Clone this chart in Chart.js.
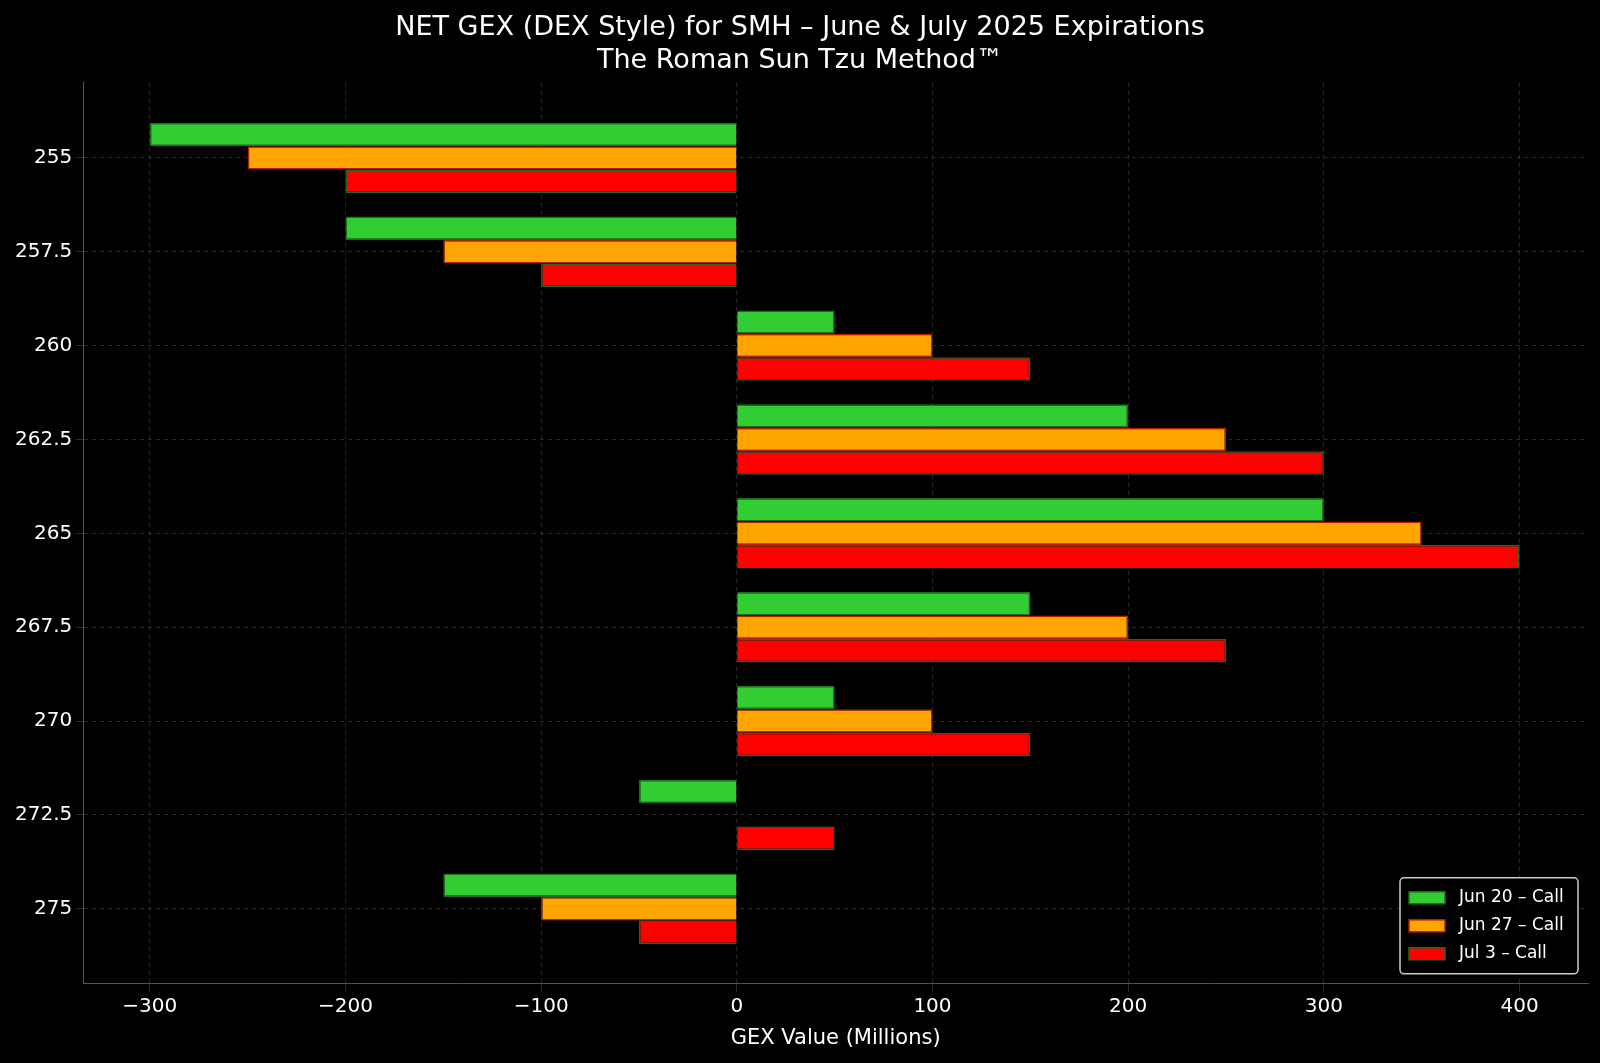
<!DOCTYPE html>
<html>
<head>
  <meta charset="utf-8">
  <script src="https://cdn.jsdelivr.net/npm/chart.js"></script>
  <style>
    html, body { margin: 0; background: #000; }
    #wrap { width: 1600px; height: 1063px; }
  </style>
</head>
<body>
<div id="wrap"><canvas id="c"></canvas></div>
<script>
  const strikes = [255, 257.5, 260, 262.5, 265, 267.5, 270, 272.5, 275];
  const jun20 = [-300, -200, 50, 200, 300, 150, 50, -50, -150];
  const jun27 = [-250, -150, 100, 250, 350, 200, 100, 0, -100];
  const jul3  = [-200, -100, 150, 300, 400, 250, 150, 50, -50];
  const xTicks = [-300, -200, -100, 0, 100, 200, 300, 400];

  const pts = arr => arr.map((v, i) => ({ x: v, y: strikes[i] }));
  const grid = { color: 'rgba(255,255,255,0.2)', lineWidth: 0.8, offset: false };
  const border = { color: '#555', dash: [4, 4] };
  Chart.defaults.font.family = 'DejaVu Sans';

  // legend box in the lower right, matplotlib style
  const boxLegend = {
    id: 'boxLegend',
    afterDraw(chart) {
      const ctx = chart.ctx, a = chart.chartArea;
      const ds = chart.data.datasets;
      const w = 178, rowH = 28, h = ds.length * rowH + 12;
      const x0 = a.right - w - 10, y0 = a.bottom - h - 10;
      ctx.save();
      ctx.fillStyle = 'rgba(0,0,0,0.85)';
      ctx.strokeStyle = '#ccc';
      ctx.lineWidth = 1.5;
      ctx.beginPath();
      ctx.roundRect(x0, y0, w, h, 4);
      ctx.fill(); ctx.stroke();
      ctx.font = '17px DejaVu Sans';
      ctx.textBaseline = 'middle';
      ds.forEach((d, i) => {
        const cy = y0 + 6 + rowH * i + rowH / 2;
        ctx.fillStyle = d.backgroundColor;
        ctx.strokeStyle = d.borderColor;
        ctx.lineWidth = 1.5;
        ctx.fillRect(x0 + 9, cy - 6, 36, 12);
        ctx.strokeRect(x0 + 9, cy - 6, 36, 12);
        ctx.fillStyle = '#fff';
        ctx.fillText(d.label, x0 + 59, cy);
      });
      ctx.restore();
    }
  };

  new Chart(document.getElementById('c'), {
    type: 'bar',
    data: {
      datasets: [
        { label: 'Jun 20 – Call', data: pts(jun20), backgroundColor: '#32cd32', borderColor: '#1f6b1f', borderWidth: 1.5 },
        { label: 'Jun 27 – Call', data: pts(jun27), backgroundColor: '#ffa500', borderColor: '#b22000', borderWidth: 1.5 },
        { label: 'Jul 3 – Call', data: pts(jul3), backgroundColor: '#ff0000', borderColor: '#1f6b1f', borderWidth: 1.5 }
      ]
    },
    options: {
      indexAxis: 'y',
      responsive: true,
      maintainAspectRatio: false,
      animation: false,
      layout: { padding: { left: 12, right: 12, top: 4, bottom: 8 } },
      datasets: { bar: { categoryPercentage: 0.75, barPercentage: 1 } },
      plugins: {
        title: {
          display: true,
          text: ['NET GEX (DEX Style) for SMH – June & July 2025 Expirations', 'The Roman Sun Tzu Method™'],
          color: '#fff', font: { size: 27, weight: 'normal' }, padding: { top: 8, bottom: 6 }, lineHeight: 1.25
        },
        legend: { display: false },
        tooltip: { enabled: false }
      },
      scales: {
        x: {
          type: 'linear', min: -334, max: 435,
          afterBuildTicks: s => { s.ticks = xTicks.map(v => ({ value: v })); },
          ticks: { color: '#fff', font: { size: 20 }, callback: v => v < 0 ? '−' + Math.abs(v) : v },
          grid: grid, border: border,
          title: { display: true, text: 'GEX Value (Millions)', color: '#fff', font: { size: 21 } }
        },
        y: {
          type: 'linear', reverse: true, min: 253, max: 277, offset: false,
          afterBuildTicks: s => { s.ticks = strikes.map(v => ({ value: v })); },
          ticks: { color: '#fff', font: { size: 20 }, callback: v => String(v) },
          grid: grid, border: border
        }
      }
    },
    plugins: [boxLegend]
  });
</script>
</body>
</html>
